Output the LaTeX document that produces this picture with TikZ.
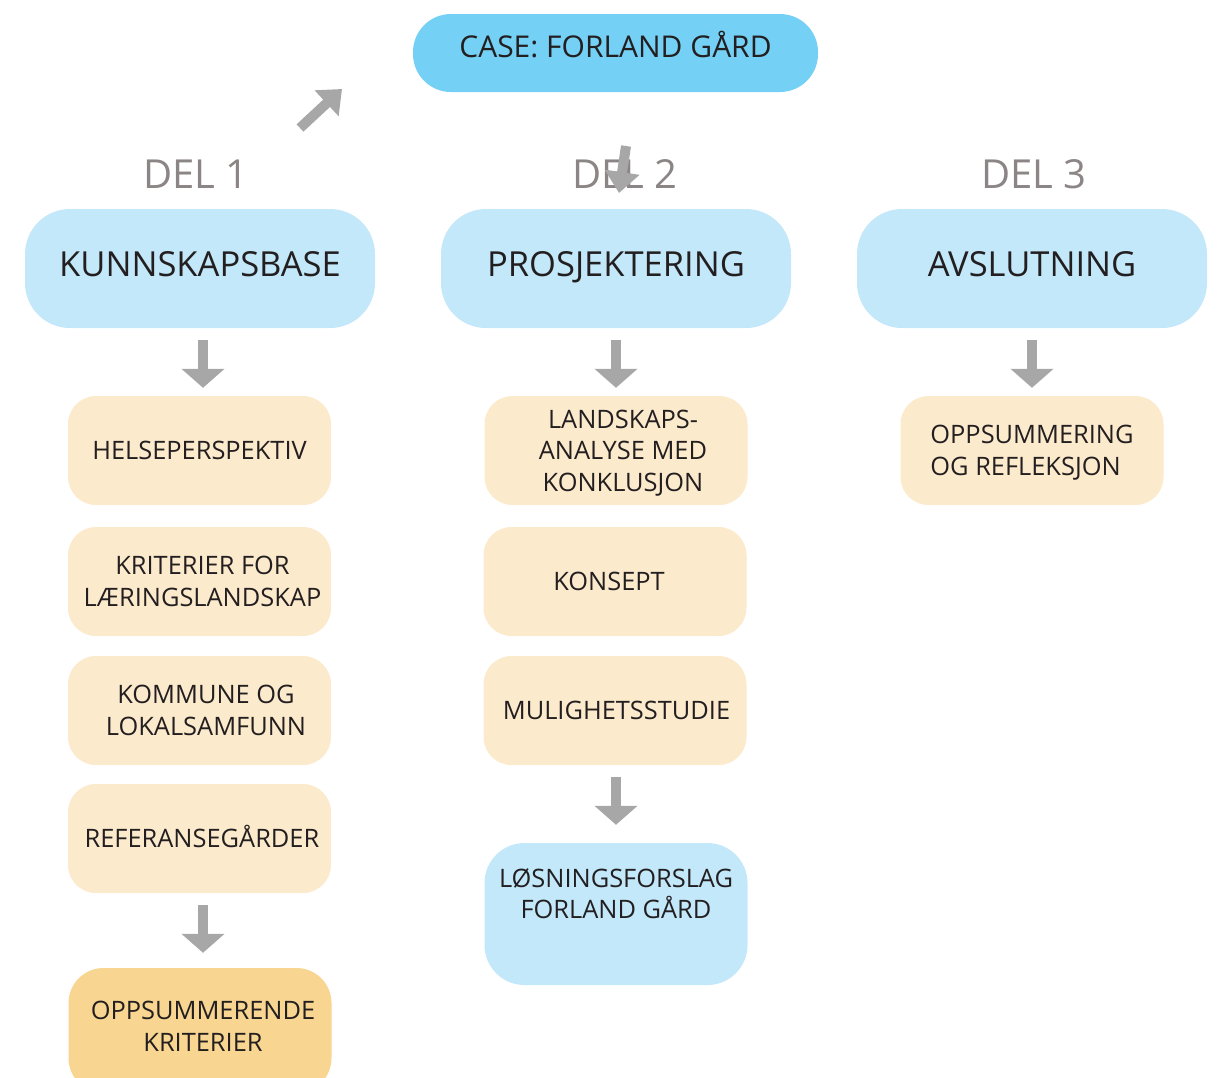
\documentclass[tikz,border=0pt]{standalone}
\usepackage{fontspec}
\setmainfont{Open Sans}
\usetikzlibrary{arrows.meta}
\definecolor{casecol}{HTML}{74D0F5}
\definecolor{lblue}{HTML}{C2E8FA}
\definecolor{cream}{HTML}{FCEACD}
\definecolor{ocol}{HTML}{F8D591}
\definecolor{agray}{HTML}{A7A7A7}
\definecolor{delgray}{HTML}{8C8585}
\definecolor{txt}{HTML}{231F20}
\tikzset{
  bigbox/.style={fill=lblue, rounded corners=45pt, minimum width=350pt, minimum height=119pt, text=txt, font=\fontsize{34.5}{38}\selectfont, inner sep=0pt, text height=24.6pt, text depth=8pt},
  smallbox/.style={fill=cream, rounded corners=28pt, minimum width=263pt, minimum height=109pt, text=txt, align=center, font=\fontsize{25.4}{31.5}\selectfont, inner sep=0pt, text height=18.1pt, text depth=0pt},
  twolines/.style={text height=49.6pt},
  threelines/.style={text height=81.1pt},
  casebox/.style={fill=casecol, rounded corners=38pt, minimum width=405pt, minimum height=78pt, text=txt, font=\fontsize{30}{34}\selectfont, inner sep=0pt, text height=21.4pt, text depth=13.2pt},
  dellabel/.style={text=delgray, font=\fontsize{40}{44}\selectfont, inner sep=0pt, text height=28.5pt, text depth=0pt},
  blockarrow/.style={draw=agray, line width=10.5pt, line cap=butt, -{Triangle[width=42pt,length=19pt]}},
  smallarrow/.style={draw=agray, line width=10pt, line cap=butt, -{Triangle[width=34pt,length=21pt]}},
}
\begin{document}
\begin{tikzpicture}[x=1pt,y=-1pt]
\useasboundingbox (0,0) rectangle (1217,1077);
\begin{scope}
\clip (0,0) rectangle (1217,1077);
% top case
\node[casebox] (case) at (615.5,53) {CASE: FORLAND GÅRD};
% DEL labels
\node[dellabel] (d1) at (196,174) {DEL 1};
\node[dellabel] (d2) at (625,174) {DEL 2};
\node[dellabel] (d3) at (1034,174) {DEL 3};
% big boxes
\node[bigbox] (kb) at (200,268.5) {KUNNSKAPSBASE};
\node[bigbox] (pr) at (616,268.5) {PROSJEKTERING};
\node[bigbox] (av) at (1032,268.5) {AVSLUTNING};
% left column
\node[smallbox] (h1) at (199.5,450.5) {HELSEPERSPEKTIV};
\node[smallbox, twolines] (h2) at (199.5,581.5) {\hspace*{6pt}KRITERIER FOR\\\hspace*{6pt}LÆRINGSLANDSKAP};
\node[smallbox, twolines] (h3) at (199.5,710.5) {\hspace*{13pt}KOMMUNE OG\\\hspace*{13pt}LOKALSAMFUNN};
\node[smallbox] (h4) at (199.5,838.5) {\hspace*{5pt}REFERANSEGÅRDER};
\node[smallbox, twolines, fill=ocol, rounded corners=35pt, minimum height=125pt, text depth=8pt] (h5) at (200,1030.5) {\hspace*{6pt}OPPSUMMERENDE\\\hspace*{6pt}KRITERIER};
% middle column
\node[smallbox, threelines] (m1) at (616,450.5) {\hspace*{14pt}LANDSKAPS-\\\hspace*{14pt}ANALYSE MED\\\hspace*{14pt}KONKLUSJON};
\node[smallbox] (m2) at (615,581.5) {KONSEPT\hspace*{12pt}};
\node[smallbox] (m3) at (615,710.5) {\hspace*{3pt}MULIGHETSSTUDIE};
\node[smallbox, twolines, fill=lblue, minimum height=142pt, rounded corners=40pt, text depth=40pt] (m4) at (616,914) {LØSNINGSFORSLAG\\FORLAND GÅRD};
% right column
\node[smallbox, twolines, align=left] (r1) at (1032,450.5) {OPPSUMMERING\\OG REFLEKSJON};
% arrows
\draw[blockarrow] ([xshift=3pt,yshift=-12pt]kb.south) -- ([xshift=3.5pt,yshift=8pt]h1.north);
\draw[blockarrow] ([xshift=3.5pt,yshift=-12pt]h4.south) -- ([xshift=3pt,yshift=15pt]h5.north);
\draw[blockarrow] ([yshift=-12pt]pr.south) -- ([yshift=8pt]m1.north);
\draw[blockarrow] ([xshift=1pt,yshift=-12pt]m3.south) -- ([yshift=18pt]m4.north);
\draw[blockarrow] ([yshift=-12pt]av.south) -- ([yshift=8pt]r1.north);
\coordinate (ds) at (300,128);
\coordinate (de) at (342,89);
\draw[smallarrow] (ds) -- (de);
\coordinate (cs) at (626,146);
\coordinate (ce) at (619,193);
\draw[smallarrow] (cs) -- (ce);
\end{scope}
\end{tikzpicture}
\end{document}
